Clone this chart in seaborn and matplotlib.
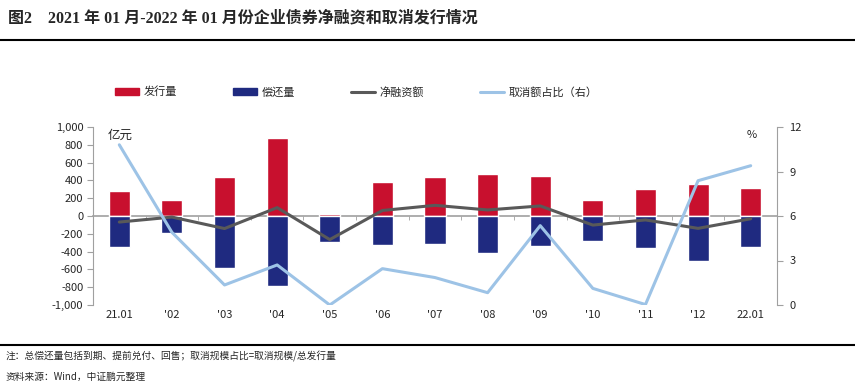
import numpy as np
import matplotlib
matplotlib.use("Agg")
import matplotlib.pyplot as plt
from matplotlib.patches import Patch
from matplotlib.lines import Line2D
from matplotlib.ticker import FuncFormatter
import seaborn as sns

# 数据（亿元 / %）
labels = ["21.01", "'02", "'03", "'04", "'05", "'06", "'07",
          "'08", "'09", "'10", "'11", "'12", "22.01"]
issue = [280, 175, 443, 881, 27, 386, 438, 476, 454, 176, 308, 364, 315]
repay = [-348, -187, -584, -787, -292, -326, -318, -411, -340, -276, -355, -501, -348]
net = [-68, -12, -141, 94, -265, 62, 120, 68, 113, -102, -44, -139, -31]
cancel_ratio = [10.8, 4.9, 1.35, 2.7, 0.0, 2.45, 1.85, 0.83, 5.35, 1.12, 0.03, 8.38, 9.39]

RED = "#C8102E"
NAVY = "#1F2A80"
GRAY = "#595959"
LBLUE = "#9DC3E6"
SPINE = "#A0A0A0"

sns.set_style("white")
plt.rcParams["font.family"] = ["Noto Sans CJK SC", "DejaVu Sans"]
plt.rcParams["axes.unicode_minus"] = False

pos = np.arange(len(labels))

fig = plt.figure(figsize=(8.55, 3.89), dpi=100)
ax = fig.add_axes([93 / 855, 1 - 305 / 389, 684 / 855, 178 / 389])

sns.barplot(x=pos, y=issue, color=RED, width=0.4, saturation=1,
            errorbar=None, ax=ax, zorder=3)
sns.barplot(x=pos, y=repay, color=NAVY, width=0.4, saturation=1,
            errorbar=None, ax=ax, zorder=3)
sns.lineplot(x=pos, y=net, color=GRAY, lw=2.2, ax=ax, zorder=4)

ax.set_xlim(-0.5, 12.5)
ax.set_ylim(-1000, 1000)
ax.set_yticks(np.arange(-1000, 1001, 200))
ax.yaxis.set_major_formatter(FuncFormatter(lambda v, _: f"{v:,.0f}"))
ax.set_xlabel("")
ax.set_ylabel("")

# 零轴（带分隔刻度），类别标签放在底部
ax.spines["bottom"].set_position(("data", 0))
ax.spines["bottom"].set_color(SPINE)
ax.spines["bottom"].set_linewidth(1.2)
ax.spines["bottom"].set_zorder(2)
ax.spines["top"].set_visible(False)
ax.spines["right"].set_visible(False)
ax.spines["left"].set_color(SPINE)
ax.set_xticks(pos)
ax.set_xticklabels(labels)
ax.set_xticks(np.arange(0.5, 12, 1), minor=True)
ax.tick_params(axis="x", which="major", length=0, pad=68, labelsize=8)
ax.tick_params(axis="x", which="minor", length=3, direction="out",
               color=SPINE, bottom=True)
ax.tick_params(axis="y", length=4, direction="out", color=SPINE,
               left=True, labelsize=8, pad=3)

ax2 = ax.twinx()
sns.lineplot(x=pos, y=cancel_ratio, color=LBLUE, lw=2.2, ax=ax2)
ax2.set_ylim(0, 12)
ax2.set_yticks([0, 3, 6, 9, 12])
ax2.set_ylabel("")
for s in ["top", "left", "bottom"]:
    ax2.spines[s].set_visible(False)
ax2.spines["right"].set_color(SPINE)
ax2.tick_params(axis="y", length=4, direction="out", color=SPINE,
                right=True, labelsize=8, pad=5)

ax.text(0.022, 0.99, "亿元", transform=ax.transAxes, va="top", ha="left", fontsize=9)
ax.text(0.963, 0.985, "%", transform=ax.transAxes, va="top", ha="center", fontsize=8)

handles = [Patch(color=RED), Patch(color=NAVY),
           Line2D([], [], color=GRAY, lw=2.2), Line2D([], [], color=LBLUE, lw=2.2)]
names = ["发行量", "偿还量", "净融资额", "取消额占比（右）"]
fig.legend(handles, names, loc="center left", bbox_to_anchor=(115 / 855, 1 - 92 / 389),
           ncol=4, frameon=False, fontsize=8, handlelength=2.2, handletextpad=0.4,
           columnspacing=5.0, borderpad=0, borderaxespad=0)

fig.text(0.009, 1 - 18 / 389, "图2    2021 年 01 月-2022 年 01 月份企业债券净融资和取消发行情况",
         fontsize=11.5, fontweight="bold", va="center", ha="left",
         family=["Liberation Serif", "Noto Sans CJK SC"])

for yy in [1 - 40 / 389, 1 - 345 / 389]:
    fig.add_artist(Line2D([0, 1], [yy, yy], transform=fig.transFigure,
                          color="black", lw=1.5))

fig.text(0.006, 1 - 356 / 389, "注：总偿还量包括到期、提前兑付、回售；取消规模占比=取消规模/总发行量",
         fontsize=7, va="center", ha="left")
fig.text(0.006, 1 - 377 / 389, "资料来源：Wind，中证鹏元整理",
         fontsize=7, va="center", ha="left")

fig.savefig("out.png", dpi=100)
